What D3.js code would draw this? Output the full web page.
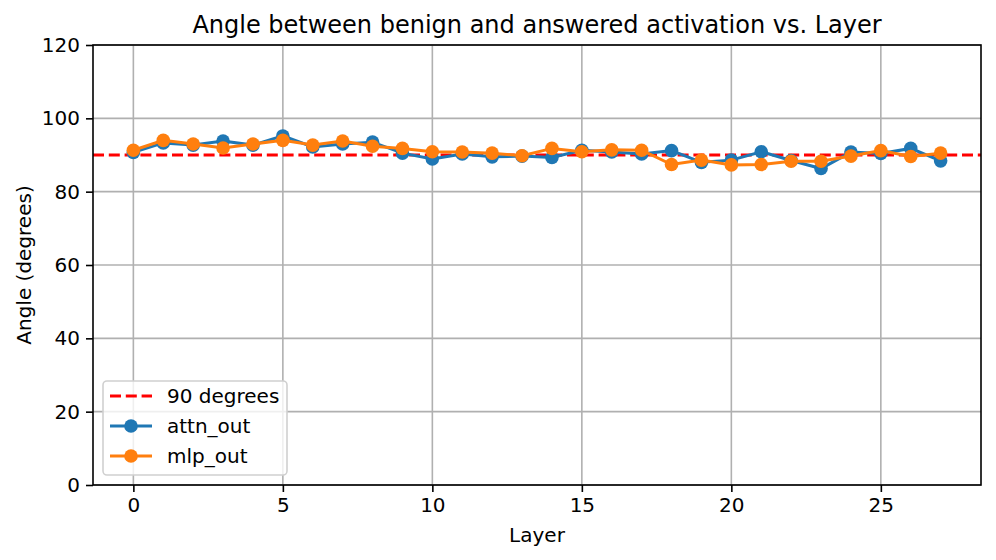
<!DOCTYPE html>
<html>
<head>
<meta charset="utf-8">
<script src="https://cdn.jsdelivr.net/npm/d3@7"></script>
<style>
body { margin: 0; background: #fff; }
text { font-family: "DejaVu Sans", sans-serif; }
</style>
</head>
<body>
<div id="chart"></div>
<script>
var layers = d3.range(28);
var attnOut = [90.7, 93.3, 92.7, 93.8, 92.7, 95.2, 92.2, 93.0, 93.5, 90.5, 88.9, 90.3, 89.5, 89.7, 89.3, 91.3, 90.8, 90.3, 91.2, 88.0, 88.6, 90.9, 88.5, 86.3, 90.8, 90.4, 91.8, 88.4];
var mlpOut = [91.3, 94.0, 93.0, 91.9, 93.0, 94.0, 92.7, 93.8, 92.4, 91.8, 90.9, 90.8, 90.5, 89.8, 91.8, 90.9, 91.4, 91.3, 87.4, 88.6, 87.3, 87.4, 88.3, 88.3, 89.7, 91.2, 89.6, 90.5];
var xTicks = [0, 5, 10, 15, 20, 25];
var yTicks = [0, 20, 40, 60, 80, 100, 120];
var refAngle = 90;

function init() {
    var w = 996, h = 560;
    var left = 93, right = 981, top = 45, bottom = 485;

    var svg = d3.select("#chart").append("svg")
        .attr("width", w).attr("height", h);

    var x = d3.scaleLinear().domain([-1.35, 28.35]).range([left, right]);
    var y = d3.scaleLinear().domain([0, 120]).range([bottom, top]);

    // grid
    svg.append("g").selectAll("line").data(xTicks).enter().append("line")
        .attr("x1", d => x(d)).attr("x2", d => x(d))
        .attr("y1", top).attr("y2", bottom)
        .attr("stroke", "#b0b0b0").attr("stroke-width", 1.6);
    svg.append("g").selectAll("line").data(yTicks).enter().append("line")
        .attr("x1", left).attr("x2", right)
        .attr("y1", d => y(d)).attr("y2", d => y(d))
        .attr("stroke", "#b0b0b0").attr("stroke-width", 1.6);

    // axes
    var xAxis = svg.append("g").attr("transform", `translate(0,${bottom})`)
        .call(d3.axisBottom(x).tickValues(xTicks).tickSize(7).tickPadding(6));
    var yAxis = svg.append("g").attr("transform", `translate(${left},0)`)
        .call(d3.axisLeft(y).tickValues(yTicks).tickSize(7).tickPadding(6));
    [xAxis, yAxis].forEach(function(a) {
        a.select(".domain").remove();
        a.attr("font-size", null);
        a.selectAll("text").attr("font-size", 20).attr("fill", "#000")
            .style("font-family", "DejaVu Sans");
        a.selectAll("line").attr("stroke", "#000").attr("stroke-width", 1.6);
    });

    // reference line
    svg.append("line")
        .attr("x1", left).attr("x2", right)
        .attr("y1", y(refAngle)).attr("y2", y(refAngle))
        .attr("stroke", "red").attr("stroke-width", 3)
        .attr("stroke-dasharray", "11,4.8");

    var line = d3.line().x((d, i) => x(layers[i])).y(d => y(d));

    function series(vals, color) {
        svg.append("path").datum(vals)
            .attr("d", line).attr("fill", "none")
            .attr("stroke", color).attr("stroke-width", 3);
        svg.append("g").selectAll("circle").data(vals).enter().append("circle")
            .attr("cx", (d, i) => x(layers[i])).attr("cy", d => y(d))
            .attr("r", 6.8).attr("fill", color);
    }
    series(attnOut, "#1f77b4");
    series(mlpOut, "#ff7f0e");

    // frame
    svg.append("rect").attr("x", left).attr("y", top)
        .attr("width", right - left).attr("height", bottom - top)
        .attr("fill", "none").attr("stroke", "#000").attr("stroke-width", 1.6);

    // labels
    svg.append("text").attr("x", (left + right) / 2).attr("y", 33)
        .attr("text-anchor", "middle").attr("font-size", 24)
        .text("Angle between benign and answered activation vs. Layer");
    svg.append("text").attr("x", (left + right) / 2).attr("y", 542)
        .attr("text-anchor", "middle").attr("font-size", 20)
        .text("Layer");
    svg.append("text").attr("transform", `translate(31,${(top + bottom) / 2}) rotate(-90)`)
        .attr("text-anchor", "middle").attr("font-size", 20)
        .text("Angle (degrees)");

    // legend
    var lg = svg.append("g");
    lg.append("rect").attr("x", 103).attr("y", 381).attr("width", 184).attr("height", 94)
        .attr("rx", 4).attr("fill", "#fff").attr("fill-opacity", 0.8)
        .attr("stroke", "#d0d0d0").attr("stroke-width", 1.6);
    var items = [
        { label: "90 degrees", color: "red", dash: true },
        { label: "attn_out", color: "#1f77b4" },
        { label: "mlp_out", color: "#ff7f0e" }
    ];
    items.forEach(function(it, i) {
        var cy = 396 + i * 30;
        lg.append("line").attr("x1", 110).attr("x2", 152)
            .attr("y1", cy).attr("y2", cy)
            .attr("stroke", it.color).attr("stroke-width", 3)
            .attr("stroke-dasharray", it.dash ? "11,4.8" : null);
        if (!it.dash) {
            lg.append("circle").attr("cx", 131).attr("cy", cy).attr("r", 6.8).attr("fill", it.color);
        }
        lg.append("text").attr("x", 167).attr("y", cy + 7)
            .attr("font-size", 20).text(it.label);
    });
}

window.onload = init;
</script>
</body>
</html>
